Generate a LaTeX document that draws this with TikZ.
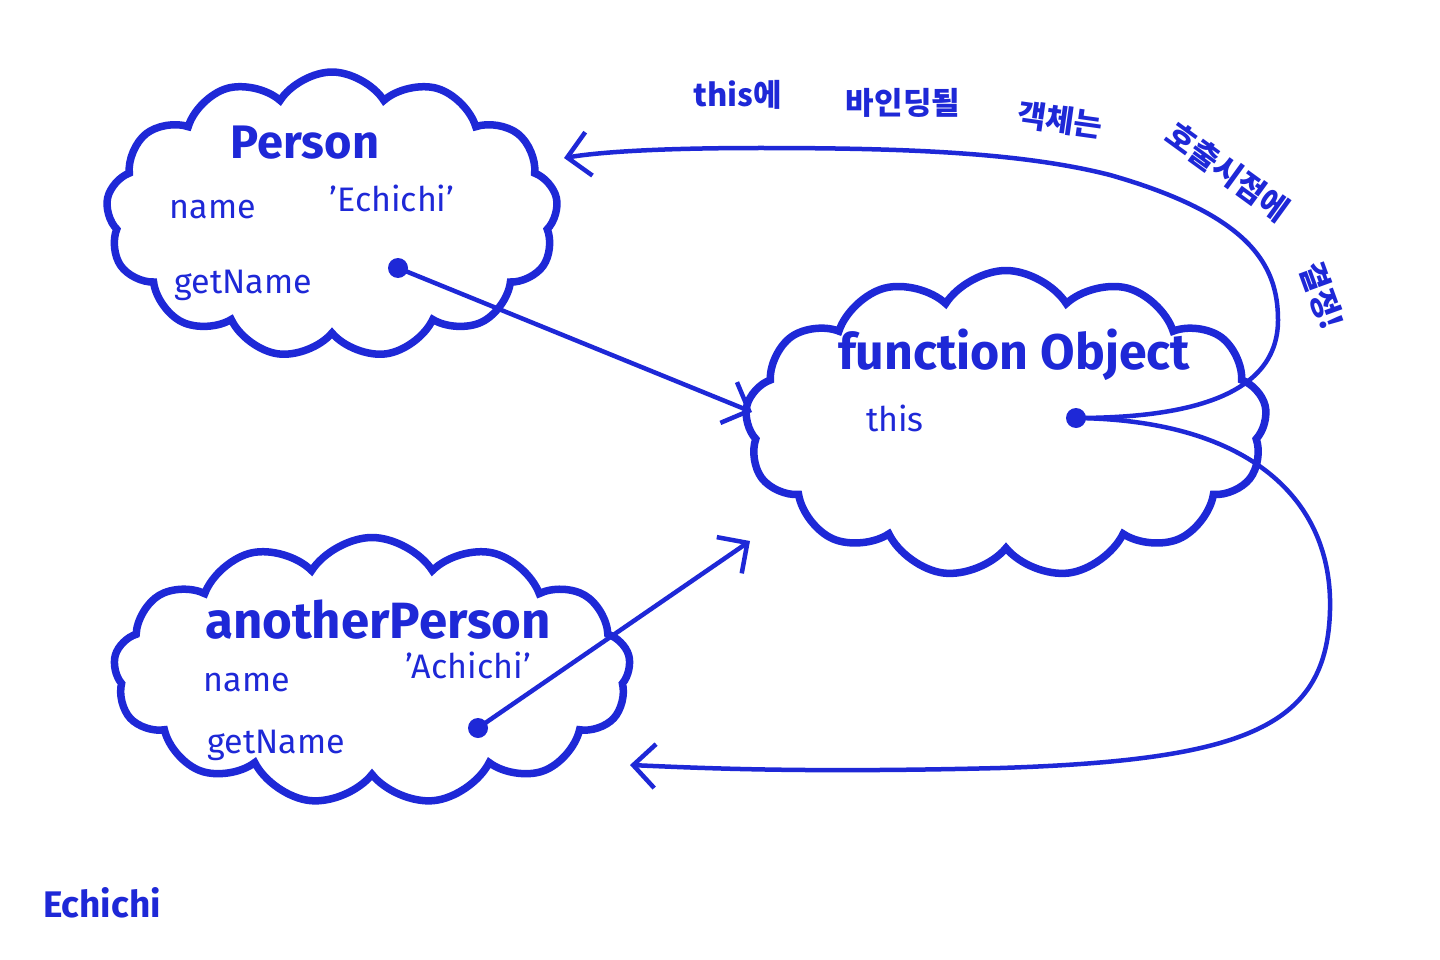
\documentclass[tikz,border=0pt]{standalone}
\usepackage{fontspec}
\setmainfont{Fira Sans}
\newfontfamily\kofont{Noto Sans CJK KR}
\usetikzlibrary{shapes.symbols,arrows.meta}
\definecolor{pen}{RGB}{30,40,215}
\tikzset{
  blob/.style={cloud, draw=pen, line width=7.5pt, cloud puffs=#1, cloud puff arc=115, inner sep=0pt},
  title/.style={text=pen, font=\fontsize{47}{50}\selectfont\bfseries, inner sep=0pt},
  label/.style={text=pen, font=\fontsize{34}{38}\selectfont, inner sep=0pt},
  kor/.style={text=pen, font=\kofont\fontsize{31}{34}\selectfont\bfseries, inner sep=0pt},
  dot/.style={circle, fill=pen, minimum size=20pt, inner sep=0pt},
  link/.style={draw=pen, line width=4.5pt, line cap=round, -{Straight Barb[length=22pt,width=44pt,line width=4.5pt]}},
}
\begin{document}
\begin{tikzpicture}[x=1pt,y=-1pt]
\useasboundingbox[fill=white] (0,0) rectangle (1440,960);
% clouds
\node[blob=13, minimum width=452pt, minimum height=286pt] (person) at (332,215) {};
\node[blob=13, minimum width=522pt, minimum height=307pt] (fobj) at (1006,424) {};
\node[blob=13, minimum width=517pt, minimum height=267pt] (another) at (372,671) {};
% Person contents
\node[title] (ptitle) at (305,143) {Person};
\node[label] (pname) at (213,210) {name};
\node[label] (pval) at (392,198) {'Echichi'};
\node[label] (pget) at (243,285) {getName};
\node[dot] (pdot) at (398,268) {};
% function Object contents
\node[title, font=\fontsize{50}{54}\selectfont\bfseries] (ftitle) at (1014,355) {function Object};
\node[label] (fthis) at (895,418) {this};
\node[dot] (fdot) at (1076,418) {};
% anotherPerson contents
\node[title, font=\fontsize{51}{54}\selectfont\bfseries] (atitle) at (378,620) {anotherPerson};
\node[label] (aname) at (247,683) {name};
\node[label] (aval) at (468,665) {'Achichi'};
\node[label] (aget) at (276,745) {getName};
\node[dot] (adot) at (478,728) {};
% signature
\node[title, font=\fontsize{37}{40}\selectfont\bfseries] (sig) at (102,903) {Echichi};
% Korean note
\node[kor] (k1) at (738,95) {this에};
\node[kor] (k2) at (903,103) {바인딩될};
\node[kor, rotate=-8] (k3) at (1060,120) {객체는};
\node[kor, rotate=-36] (k4) at (1228,172) {호출시점에};
\node[kor, rotate=-70] (k5) at (1322,296) {결정!};
% connector end points
\coordinate (pin) at (752,412);
\coordinate (ain) at (750,541);
\coordinate (pback) at (564,158);
\coordinate (aback) at (630,765);
% connectors
\draw[link] (pdot.center) -- (pin);
\draw[link] (adot.center) -- (ain);
\draw[link] (fdot.center) .. controls (1190,418) and (1278,395) .. (1278,320)
  .. controls (1278,265) and (1250,215) .. (1110,175)
  .. controls (1020,152) and (900,148) .. (760,148)
  .. controls (660,148) and (600,152) .. (pback);
\draw[link] (fdot.center) .. controls (1250,420) and (1333,500) .. (1330,610)
  .. controls (1327,725) and (1250,760) .. (1000,768)
  .. controls (800,773) and (700,768) .. (aback);
\end{tikzpicture}
\end{document}
